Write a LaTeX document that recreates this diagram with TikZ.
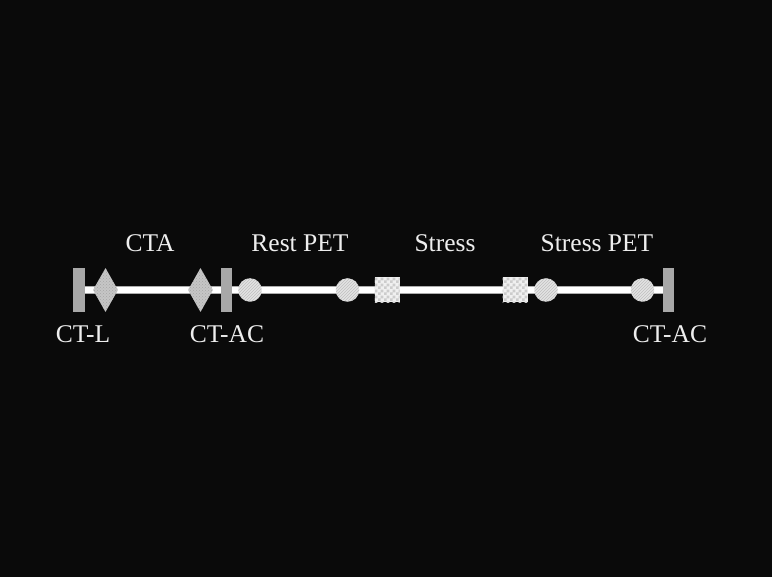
\documentclass[tikz,border=0pt]{standalone}
\usepackage{fontspec}
\setmainfont{Liberation Serif}
\usetikzlibrary{shapes.geometric,patterns}
\pgfdeclarelayer{bg}
\pgfdeclarelayer{rail}
\pgfsetlayers{bg,rail,main}
% a finer checker than the stock one
\pgfdeclarepatternformonly{finechecker}{\pgfqpoint{0pt}{0pt}}{\pgfqpoint{6pt}{6pt}}{\pgfqpoint{6pt}{6pt}}{%
  \pgfpathrectangle{\pgfqpoint{0pt}{0pt}}{\pgfqpoint{3pt}{3pt}}%
  \pgfpathrectangle{\pgfqpoint{3pt}{3pt}}{\pgfqpoint{3pt}{3pt}}%
  \pgfusepath{fill}}
\definecolor{bgblack}{HTML}{0A0A0A}
\definecolor{bargray}{HTML}{A8A8A8}
\definecolor{labelwhite}{HTML}{EEEEEE}
\tikzset{
  bar/.style={rectangle, fill=bargray, minimum width=11.5pt, minimum height=44pt, inner sep=0pt},
  ctadiamond/.style={diamond, fill=gray!45, minimum width=25pt, minimum height=44pt, inner sep=0pt,
    postaction={pattern=crosshatch dots, pattern color=gray!70}},
  petcircle/.style={circle, fill=gray!22, minimum size=23.5pt, inner sep=0pt,
    postaction={pattern=north east lines, pattern color=gray!50}},
  stresssq/.style={rectangle, fill=gray!12, minimum size=25pt, inner sep=0pt,
    postaction={pattern=finechecker, pattern color=gray!40}},
  railedge/.style={line width=8pt, draw=gray!65},
  railcore/.style={line width=5.5pt, draw=white},
  lbl/.style={text=labelwhite, font=\fontsize{25.5}{30}\selectfont, anchor=base, inner sep=0pt},
}
\begin{document}
\begin{tikzpicture}[x=1pt,y=-1pt]
  \begin{pgfonlayer}{bg}
    \fill[bgblack] (0,0) rectangle (772,577);
  \end{pgfonlayer}
  \useasboundingbox (0,0) rectangle (772,577);

  % scan markers along the timeline
  \node[bar] (ctl) at (79,290) {};
  \node[ctadiamond] (d1) at (105.5,290) {};
  \node[ctadiamond] (d2) at (200.5,290) {};
  \node[bar] (ctac1) at (226.5,290) {};
  \node[petcircle] (c1) at (250,290) {};
  \node[petcircle] (c2) at (347.5,290) {};
  \node[stresssq] (s1) at (387,290) {};
  \node[stresssq] (s2) at (515,290) {};
  \node[petcircle] (c3) at (546,290) {};
  \node[petcircle] (c4) at (642.5,290) {};
  \node[bar] (ctac2) at (668.5,290) {};

  % timeline rail behind the markers
  \begin{pgfonlayer}{rail}
    \draw[railedge] (ctl.east) -- (ctac2.west);
    \draw[railcore] (ctl.east) -- (ctac2.west);
  \end{pgfonlayer}

  % phase labels
  \node[lbl] (tcta) at (150,252) {CTA};
  \node[lbl] (trest) at (300,252) {Rest PET};
  \node[lbl] (tstress) at (445,252) {Stress};
  \node[lbl] (tspet) at (597,252) {Stress PET};
  \node[lbl] (tctl) at (83,343) {CT-L};
  \node[lbl] (tctac1) at (227,343) {CT-AC};
  \node[lbl] (tctac2) at (670,343) {CT-AC};
\end{tikzpicture}
\end{document}
